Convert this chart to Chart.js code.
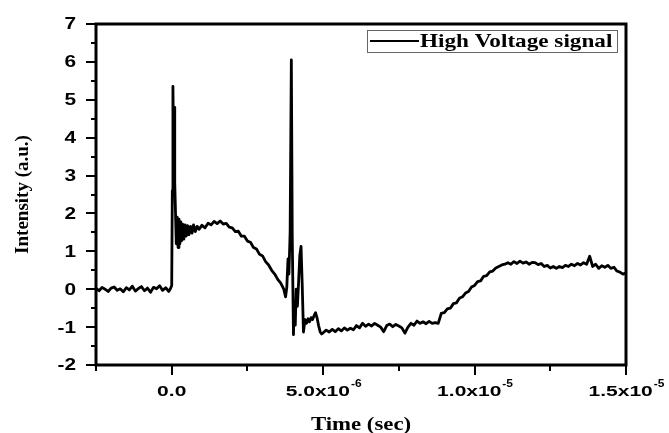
<!DOCTYPE html>
<html>
<head>
<meta charset="utf-8">
<script src="https://cdn.jsdelivr.net/npm/chart.js@4.4.1/dist/chart.umd.min.js"></script>
<style>
  html, body { margin: 0; padding: 0; background: #fff; }
  canvas { display: block; }
</style>
</head>
<body>
<canvas id="hvChart" width="669" height="433"></canvas>
<script>
// Sample times (microseconds) and measured intensity, segment by segment
const timeUs = [
  // pre-trigger baseline
  -2.5, -2.4, -2.3, -2.2, -2.1, -2.0, -1.9, -1.8, -1.7, -1.6,
  -1.5, -1.4, -1.3, -1.2, -1.1, -1.0, -0.9, -0.8, -0.7, -0.6,
  -0.5, -0.4, -0.3, -0.2, -0.1, -0.04,
  // first pulse + ringing
  0.00, 0.02, 0.04, 0.06, 0.08, 0.10, 0.12, 0.15, 0.18, 0.21,
  0.24, 0.27, 0.30, 0.33, 0.36, 0.40, 0.44, 0.48, 0.52, 0.57,
  0.62, 0.67, 0.72, 0.78, 0.84,
  // hump
  0.9, 1.0, 1.1, 1.2, 1.3, 1.4, 1.5, 1.6, 1.7, 1.8,
  1.9, 2.0, 2.1, 2.2, 2.3, 2.4, 2.5, 2.6, 2.7, 2.8,
  2.9, 3.0, 3.1, 3.2, 3.3, 3.4, 3.5, 3.6, 3.7, 3.76,
  // second pulse
  3.80, 3.84, 3.87, 3.91, 3.95, 3.98, 4.02, 4.05, 4.08, 4.11,
  4.15, 4.19, 4.23, 4.27, 4.31, 4.35, 4.40, 4.45, 4.50, 4.55,
  4.60, 4.65, 4.70, 4.75, 4.80, 4.85, 4.90, 4.95,
  // trough, recovery and tail
  5.0, 5.1, 5.2, 5.3, 5.4, 5.5, 5.6, 5.7, 5.8, 5.9,
  6.0, 6.1, 6.2, 6.3, 6.4, 6.5, 6.6, 6.7, 6.8, 6.9,
  7.0, 7.1, 7.2, 7.3, 7.4, 7.5, 7.6, 7.7, 7.8, 7.9,
  8.0, 8.1, 8.2, 8.3, 8.4, 8.5, 8.6, 8.7, 8.8, 8.9,
  9.0, 9.1, 9.2, 9.3, 9.4, 9.5, 9.6, 9.7, 9.8, 9.9,
  10.0, 10.1, 10.2, 10.3, 10.4, 10.5, 10.6, 10.7, 10.8, 10.9,
  11.0, 11.1, 11.2, 11.3, 11.4, 11.5, 11.6, 11.7, 11.8, 11.9,
  12.0, 12.1, 12.2, 12.3, 12.4, 12.5, 12.6, 12.7, 12.8, 12.9,
  13.0, 13.1, 13.2, 13.3, 13.4, 13.5, 13.6, 13.7, 13.8, 13.9,
  14.0, 14.1, 14.2, 14.3, 14.4, 14.5, 14.6, 14.7, 14.8, 14.9,
  15.0
];

const intensity = [
  // pre-trigger baseline
  0.02, -0.04, 0.05, 0.00, -0.06, 0.03, 0.06, -0.03, 0.01, -0.07,
  0.04, -0.02, 0.08, -0.05, 0.02, 0.07, -0.04, 0.03, -0.08, 0.05,
  0.01, 0.09, -0.03, 0.04, -0.06, 0.02,
  // first pulse + ringing
  0.10, 2.60, 5.35, 3.90, 4.80, 2.80, 2.20, 1.20, 1.90, 1.10,
  1.85, 1.20, 1.78, 1.28, 1.72, 1.32, 1.70, 1.40, 1.68, 1.44,
  1.66, 1.48, 1.70, 1.52, 1.66,
  // hump
  1.58, 1.69, 1.62, 1.74, 1.70, 1.79, 1.73, 1.80, 1.72, 1.74,
  1.64, 1.62, 1.52, 1.53, 1.40, 1.40, 1.27, 1.24, 1.10, 1.06,
  0.92, 0.88, 0.73, 0.64, 0.50, 0.40, 0.26, 0.16, 0.00, -0.20,
  // second pulse
  0.05, 0.80, 0.40, 1.50, 6.05, 1.40, -1.20, -0.30, -0.95, 0.00,
  -0.45, 0.20, 0.90, 1.13, 0.10, -1.13, -0.80, -0.90, -0.78, -0.86,
  -0.75, -0.80, -0.70, -0.62, -0.76, -0.96, -1.12, -1.18,
  // trough, recovery and tail
  -1.15, -1.08, -1.13, -1.06, -1.12, -1.04, -1.10, -1.02, -1.08, -1.03,
  -1.07, -0.96, -1.02, -0.90, -0.98, -0.92, -0.97, -0.90, -0.95, -1.00,
  -1.12, -0.96, -0.92, -0.99, -0.93, -0.97, -1.02, -1.16, -1.00, -0.90,
  -0.95, -0.84, -0.90, -0.86, -0.91, -0.85, -0.90, -0.88, -0.90, -0.64,
  -0.62, -0.52, -0.50, -0.38, -0.36, -0.24, -0.20, -0.10, -0.06, 0.06,
  0.10, 0.20, 0.22, 0.34, 0.36, 0.46, 0.48, 0.56, 0.60, 0.64,
  0.66, 0.70, 0.66, 0.73, 0.68, 0.74, 0.69, 0.72, 0.66, 0.71,
  0.70, 0.65, 0.68, 0.60, 0.63, 0.56, 0.60, 0.55, 0.60, 0.57,
  0.63, 0.60, 0.66, 0.62, 0.68, 0.64, 0.70, 0.66, 0.87, 0.60,
  0.66, 0.55, 0.62, 0.58, 0.63, 0.55, 0.58, 0.48, 0.45, 0.40,
  0.43
];

// Axis ticks (seconds on x, a.u. on y)
const xMajorTicks = [0, 5e-6, 1e-5, 1.5e-5];
const xTickLabels = [['0.0', ''], ['5.0x10', '-6'], ['1.0x10', '-5'], ['1.5x10', '-5']];
const xMinorTicks = [-2.5e-6, 2.5e-6, 7.5e-6, 1.25e-5];
const yMajorTicks = [-2, -1, 0, 1, 2, 3, 4, 5, 6, 7];
const yTickLabels = ['-2', '-1', '0', '1', '2', '3', '4', '5', '6', '7'];

const seriesName = 'High Voltage signal';
const xTitle = 'Time (sec)';
const yTitle = 'Intensity (a.u.)';

const points = timeUs.map((t, i) => ({ x: t * 1e-6, y: intensity[i] }));

const SANS = '"Liberation Sans", Arial, sans-serif';
const SERIF = '"Liberation Serif", "Times New Roman", serif';

// text drawn with a horizontal stretch
function wideText(ctx, text, x, y, sx, align) {
    ctx.save();
    ctx.translate(x, y);
    ctx.scale(sx, 1);
    ctx.textAlign = align;
    ctx.fillText(text, 0, 0);
    ctx.restore();
}

// Frame, ticks, tick labels, titles and the boxed legend
const framePlugin = {
    id: 'originFrame',
    afterDraw(chart) {
        const { ctx, chartArea: a, scales: { x, y } } = chart;
        ctx.save();
        ctx.strokeStyle = '#000';
        ctx.fillStyle = '#000';

        // ticks
        ctx.lineWidth = 2;
        ctx.beginPath();
        xMajorTicks.forEach(v => {
            const px = Math.round(x.getPixelForValue(v));
            ctx.moveTo(px, a.bottom); ctx.lineTo(px, a.bottom + 10);
        });
        xMinorTicks.forEach(v => {
            const px = Math.round(x.getPixelForValue(v));
            ctx.moveTo(px, a.bottom); ctx.lineTo(px, a.bottom + 6);
        });
        yMajorTicks.forEach(v => {
            const py = Math.round(y.getPixelForValue(v));
            ctx.moveTo(a.left, py); ctx.lineTo(a.left - 10, py);
            if (v < 7) {
                const pm = Math.round(y.getPixelForValue(v + 0.5));
                ctx.moveTo(a.left, pm); ctx.lineTo(a.left - 5, pm);
            }
        });
        ctx.stroke();

        // box
        ctx.lineWidth = 3;
        ctx.strokeRect(a.left, a.top, a.right - a.left, a.bottom - a.top);

        // y tick labels
        ctx.font = 'bold 16px ' + SANS;
        ctx.textBaseline = 'middle';
        yMajorTicks.forEach((v, i) => {
            wideText(ctx, yTickLabels[i], 76, y.getPixelForValue(v) + 1, 1.3, 'right');
        });

        // x tick labels, mantissa plus superscript exponent
        ctx.textBaseline = 'alphabetic';
        xMajorTicks.forEach((v, i) => {
            const [main, sup] = xTickLabels[i];
            ctx.font = 'bold 15px ' + SANS;
            const w1 = ctx.measureText(main).width * 1.4;
            ctx.font = 'bold 10px ' + SANS;
            const w2 = sup ? ctx.measureText(sup).width * 1.2 : 0;
            const start = x.getPixelForValue(v) - (w1 + w2) / 2;
            ctx.font = 'bold 15px ' + SANS;
            wideText(ctx, main, start, 396, 1.4, 'left');
            if (sup) {
                ctx.font = 'bold 10px ' + SANS;
                wideText(ctx, sup, start + w1 + 1, 387, 1.2, 'left');
            }
        });

        // axis titles
        ctx.font = 'bold 19px ' + SERIF;
        wideText(ctx, xTitle, (a.left + a.right) / 2, 430, 1.2, 'center');
        ctx.save();
        ctx.translate(28, (a.top + a.bottom) / 2);
        ctx.rotate(-Math.PI / 2);
        ctx.textAlign = 'center';
        ctx.fillText(yTitle, 0, 0);
        ctx.restore();

        // legend
        ctx.lineWidth = 1;
        ctx.strokeStyle = '#666';
        ctx.strokeRect(367.5, 30.5, 250, 22);
        ctx.strokeStyle = '#000';
        ctx.lineWidth = 2;
        ctx.beginPath();
        ctx.moveTo(370, 41); ctx.lineTo(419, 41);
        ctx.stroke();
        ctx.font = 'bold 19px ' + SERIF;
        wideText(ctx, seriesName, 420, 47, 1.22, 'left');

        ctx.restore();
    }
};

new Chart(document.getElementById('hvChart'), {
    type: 'line',
    data: {
        datasets: [{
            label: seriesName,
            data: points,
            borderColor: '#000',
            borderWidth: 2.8,
            borderJoinStyle: 'round',
            pointRadius: 0,
            tension: 0,
            fill: false
        }]
    },
    options: {
        responsive: false,
        animation: false,
        layout: { padding: { top: 24, right: 43, left: 0, bottom: 0 } },
        plugins: {
            legend: { display: false },
            tooltip: { enabled: false }
        },
        scales: {
            x: {
                type: 'linear',
                min: -2.5e-6,
                max: 1.5e-5,
                ticks: { display: false },
                grid: { display: false },
                border: { display: false },
                afterFit: (scale) => { scale.height = 68; }
            },
            y: {
                min: -2,
                max: 7,
                ticks: { display: false },
                grid: { display: false },
                border: { display: false },
                afterFit: (scale) => { scale.width = 96; }
            }
        }
    },
    plugins: [framePlugin]
});
</script>
</body>
</html>
